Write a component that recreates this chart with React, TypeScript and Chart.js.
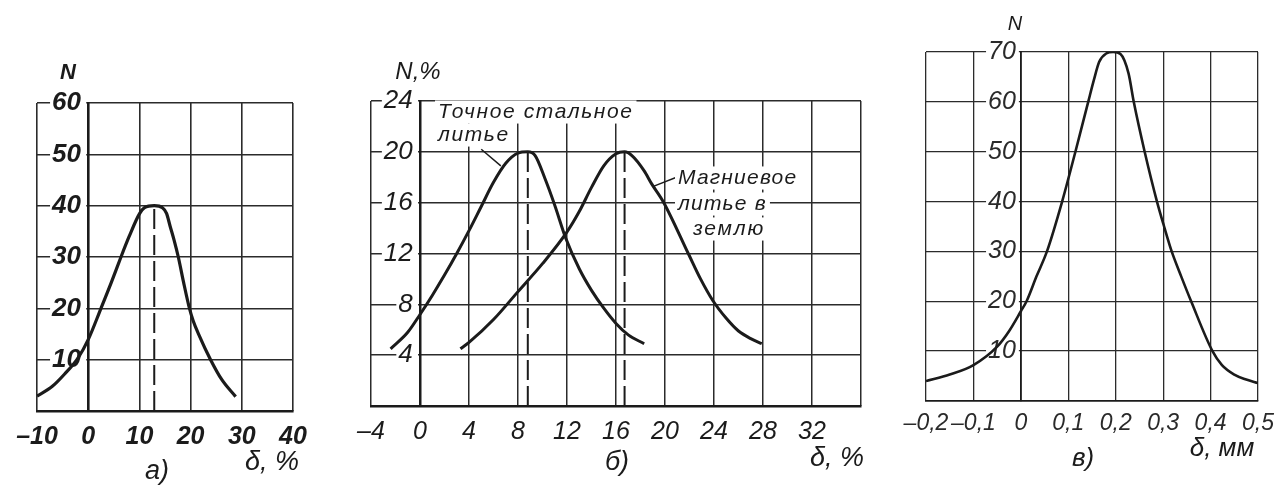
import React, { useEffect, useRef } from "react";
import { Chart, registerables } from "chart.js";

Chart.register(...registerables);

const W = 1283;
const H = 490;
const INK = "#1b1b1b";
const GRID = "#2b2b2b";
const NARROW = "'Liberation Sans Narrow', 'Liberation Sans', Arial, sans-serif";
const WIDE = "'Liberation Sans', Arial, sans-serif";

// ---------- Panel а) ----------
const aDelta = [-10, -7, -4.6, -2, 0, 2.5, 4.5, 6.4, 8, 10, 11, 12.9, 14.5, 15.3, 16, 16.8, 17.6, 18.6, 19.7, 20.5, 21.6, 23.9, 26.1, 28.8];
const aN = [2.9, 4.8, 7.2, 10.3, 13.9, 20, 25, 30, 34, 38.4, 39.6, 40, 39.6, 38.5, 36, 33.2, 30, 25.2, 20.3, 17.6, 14.9, 10, 6.1, 2.8];
const aPeakDelta = 12.9;
const aPeakN = 40;
const aXTicks = [-10, 0, 10, 20, 30, 40];
const aYTicks = [10, 20, 30, 40, 50, 60];

// ---------- Panel б) ----------
const bSteelDelta = [-2.4, -1, 0, 1, 2, 3, 4, 5, 6, 7, 8, 8.8, 9.4, 10.2, 11, 11.9, 13, 14, 15, 16, 17, 18.3];
const bSteelN = [4.5, 5.8, 7.2, 8.7, 10.3, 12.0, 13.8, 15.7, 17.6, 19.1, 19.9, 20, 19.7, 17.9, 15.8, 13.2, 10.8, 9.1, 7.7, 6.5, 5.6, 4.9];
const bMgDelta = [3.3, 4, 6, 8, 10, 12, 13, 14, 15, 16, 16.7, 17.3, 18.3, 18.9, 19.9, 21.9, 22.9, 23.9, 25, 26, 27, 27.9];
const bMgN = [4.5, 5.0, 6.8, 9.0, 11.2, 13.7, 15.3, 17.2, 18.9, 19.85, 20, 19.7, 18.5, 17.5, 16, 12, 10, 8.3, 6.9, 5.9, 5.3, 4.9];
const bSteelPeakDelta = 8.8;
const bMgPeakDelta = 16.7;
const bPeakN = 20;
const bXTicks = [-4, 0, 4, 8, 12, 16, 20, 24, 28, 32, 36];
const bXLabelled = [-4, 0, 4, 8, 12, 16, 20, 24, 28, 32];
const bYTicks = [4, 8, 12, 16, 20, 24];
const bSteelLabel = ["Точное стальное", "литье"];
const bMgLabel = ["Магниевое", "литье в", "землю"];

// ---------- Panel в) ----------
const cDelta = [-0.2, -0.15, -0.1, -0.05, -0.025, 0, 0.012, 0.033, 0.055, 0.087, 0.115, 0.142, 0.154, 0.165, 0.18, 0.195, 0.21, 0.227, 0.238, 0.261, 0.287, 0.302, 0.318, 0.338, 0.359, 0.404, 0.424, 0.45, 0.475, 0.5];
const cN = [4.0, 5.3, 7.2, 10.9, 14.0, 18.0, 20, 25, 30, 40, 50, 60, 64.4, 68, 69.7, 70, 69.6, 65.7, 60, 50, 40, 35, 30, 25, 20, 10, 7.2, 5.3, 4.3, 3.6];
const cXTicks = [-0.2, -0.1, 0, 0.1, 0.2, 0.3, 0.4, 0.5];
const cYTicks = [10, 20, 30, 40, 50, 60, 70];

const fmtInt = (v: number) => (v < 0 ? "–" + Math.abs(v) : String(v));
const fmtDec = (v: number) =>
  Math.abs(v) < 1e-9 ? "0" : (v < 0 ? "–" : "") + Math.abs(v).toFixed(1).replace(".", ",");

type TextItem = { t: string; x: number; y: number; size: number; family?: string; weight?: string; align?: CanvasTextAlign; box?: boolean; spacing?: number };
type LineItem = { x1: number; y1: number; x2: number; y2: number };

type PanelSpec = {
  area: { left: number; top: number; right: number; bottom: number };
  xMin: number; xMax: number; yMin: number; yMax: number;
  xTicks: number[]; xLabelled: number[]; yTicks: number[];
  fmtX: (v: number) => string;
  series: { x: number[]; y: number[] }[];
  peaks: { x: number; y: number }[];
  tickSize: number; yTickSize: number; tickWeight: string; tickColor: string;
  curveWidth: number; gridWidth: number; axisWidth: number;
  ySuffix: string; xPad: number;
  texts: TextItem[];
  leaders: LineItem[];
};

function makeTextPlugin(spec: PanelSpec) {
  return {
    id: "texts",
    afterDraw(chart: any) {
      const ctx: CanvasRenderingContext2D = chart.ctx;
      const xs = chart.scales.x;
      const ys = chart.scales.y;
      ctx.save();
      ctx.strokeStyle = INK;
      ctx.lineWidth = 1.5;
      for (const l of spec.leaders) {
        ctx.beginPath();
        ctx.moveTo(xs.getPixelForValue(l.x1), ys.getPixelForValue(l.y1));
        ctx.lineTo(xs.getPixelForValue(l.x2), ys.getPixelForValue(l.y2));
        ctx.stroke();
      }
      for (const t of spec.texts) {
        ctx.font = `italic ${t.weight || "normal"} ${t.size}px ${t.family || NARROW}`;
        (ctx as any).letterSpacing = `${t.spacing || 0}px`;
        ctx.textAlign = t.align || "center";
        ctx.textBaseline = "middle";
        if (t.box) {
          const w = ctx.measureText(t.t).width;
          const left = t.align === "left" ? t.x : t.x - w / 2;
          ctx.fillStyle = "#ffffff";
          ctx.fillRect(left - 3, t.y - t.size * 0.55, w + 6, t.size * 1.1);
        }
        ctx.fillStyle = INK;
        ctx.fillText(t.t, t.x, t.y);
      }
      ctx.restore();
    },
  };
}

function buildConfig(spec: PanelSpec): any {
  const datasets: any[] = [];
  spec.series.forEach((s) => {
    datasets.push({
      data: s.x.map((x, i) => ({ x, y: s.y[i] })),
      borderColor: INK,
      borderWidth: spec.curveWidth,
      pointRadius: 0,
      cubicInterpolationMode: "monotone",
      fill: false,
    });
  });
  spec.peaks.forEach((p) => {
    datasets.push({
      data: [
        { x: p.x, y: spec.yMin },
        { x: p.x, y: p.y },
      ],
      borderColor: INK,
      borderWidth: 2,
      borderDash: [20, 6],
      pointRadius: 0,
      fill: false,
    });
  });
  const xFont = { family: NARROW, size: spec.tickSize, style: "italic", weight: spec.tickWeight };
  const yFont = { family: NARROW, size: spec.yTickSize, style: "italic", weight: spec.tickWeight };
  return {
    type: "line",
    data: { datasets },
    options: {
      responsive: false,
      animation: false,
      devicePixelRatio: 1,
      events: [],
      layout: {
        padding: {
          left: spec.area.left,
          top: spec.area.top,
          right: W - spec.area.right,
          bottom: H - spec.area.bottom,
        },
      },
      plugins: { legend: { display: false }, tooltip: { enabled: false }, title: { display: false } },
      scales: {
        x: {
          type: "linear",
          position: { y: spec.yMin },
          min: spec.xMin,
          max: spec.xMax,
          afterBuildTicks: (s: any) => {
            s.ticks = spec.xTicks.map((v) => ({ value: v }));
          },
          grid: { color: GRID, lineWidth: spec.gridWidth, drawTicks: false },
          border: { color: INK, width: spec.axisWidth },
          ticks: {
            autoSkip: false,
            maxRotation: 0,
            padding: spec.xPad,
            color: spec.tickColor,
            font: xFont,
            callback: (v: number) => (spec.xLabelled.some((l) => Math.abs(l - v) < 1e-9) ? spec.fmtX(v) : ""),
          },
        },
        y: {
          type: "linear",
          position: { x: 0 },
          min: spec.yMin,
          max: spec.yMax,
          afterBuildTicks: (s: any) => {
            s.ticks = spec.yTicks.map((v) => ({ value: v }));
          },
          grid: { color: GRID, lineWidth: spec.gridWidth, drawTicks: false },
          border: { color: INK, width: spec.axisWidth },
          ticks: {
            autoSkip: false,
            color: spec.tickColor,
            font: yFont,
            showLabelBackdrop: true,
            backdropColor: "#ffffff",
            backdropPadding: { top: 0, bottom: 0, left: 2, right: -2 },
            callback: (v: number) => String(v) + spec.ySuffix,
          },
        },
      },
    },
    plugins: [makeTextPlugin(spec)],
  };
}

function Panel({ spec }: { spec: PanelSpec }) {
  const ref = useRef<HTMLCanvasElement | null>(null);
  useEffect(() => {
    if (!ref.current) return;
    const chart = new Chart(ref.current, buildConfig(spec));
    return () => chart.destroy();
  }, [spec]);
  return (
    <canvas
      ref={ref}
      width={W}
      height={H}
      style={{ position: "absolute", left: 0, top: 0, width: W, height: H }}
    />
  );
}

const panelA: PanelSpec = {
  area: { left: 37, top: 103, right: 293, bottom: 411 },
  xMin: -10, xMax: 40, yMin: 0, yMax: 60,
  xTicks: aXTicks, xLabelled: aXTicks, yTicks: aYTicks,
  fmtX: fmtInt,
  series: [{ x: aDelta, y: aN }],
  peaks: [{ x: aPeakDelta, y: aPeakN }],
  tickSize: 25, yTickSize: 26, tickWeight: "bold", tickColor: INK,
  curveWidth: 3.2, gridWidth: 1.6, axisWidth: 2.6,
  ySuffix: " ", xPad: 11,
  texts: [
    { t: "N", x: 68, y: 73, size: 22, weight: "bold" },
    { t: "δ, %", x: 272, y: 462, size: 27 },
    { t: "а)", x: 157, y: 471, size: 27 },
  ],
  leaders: [],
};

const panelB: PanelSpec = {
  area: { left: 371, top: 101, right: 861, bottom: 406 },
  xMin: -4, xMax: 36, yMin: 0, yMax: 24,
  xTicks: bXTicks, xLabelled: bXLabelled, yTicks: bYTicks,
  fmtX: fmtInt,
  series: [
    { x: bSteelDelta, y: bSteelN },
    { x: bMgDelta, y: bMgN },
  ],
  peaks: [
    { x: bSteelPeakDelta, y: bPeakN },
    { x: bMgPeakDelta, y: bPeakN },
  ],
  tickSize: 25, yTickSize: 26, tickWeight: "normal", tickColor: INK,
  curveWidth: 3, gridWidth: 1.5, axisWidth: 2.5,
  ySuffix: " ", xPad: 11,
  texts: [
    { t: "N,%", x: 418, y: 72, size: 24 },
    { t: "δ, %", x: 837, y: 458, size: 27 },
    { t: "б)", x: 617, y: 462, size: 27 },
    { t: bSteelLabel[0], x: 438, y: 112, size: 21, family: WIDE, align: "left", box: true, spacing: 1.6 },
    { t: bSteelLabel[1], x: 438, y: 135, size: 21, family: WIDE, align: "left", box: true, spacing: 1.6 },
    { t: bMgLabel[0], x: 678, y: 178, size: 21, family: WIDE, align: "left", box: true, spacing: 1.2 },
    { t: bMgLabel[1], x: 678, y: 204, size: 21, family: WIDE, align: "left", box: true, spacing: 1.2 },
    { t: bMgLabel[2], x: 693, y: 229, size: 21, family: WIDE, align: "left", box: true, spacing: 1.8 },
  ],
  leaders: [
    { x1: 5.0, y1: 20.2, x2: 6.6, y2: 18.9 },
    { x1: 21.2, y1: 18.1, x2: 19.1, y2: 17.3 },
  ],
};

const panelC: PanelSpec = {
  area: { left: 926, top: 52, right: 1271, bottom: 401 },
  xMin: -0.2, xMax: 0.5, yMin: 0, yMax: 70,
  xTicks: cXTicks, xLabelled: cXTicks, yTicks: cYTicks,
  fmtX: fmtDec,
  series: [{ x: cDelta, y: cN }],
  peaks: [],
  tickSize: 23, yTickSize: 25, tickWeight: "normal", tickColor: "#2a2a2a",
  curveWidth: 2.6, gridWidth: 1.3, axisWidth: 1.8,
  ySuffix: "\u2009", xPad: 9,
  texts: [
    { t: "N", x: 1015, y: 24, size: 20 },
    { t: "δ, мм", x: 1222, y: 449, size: 26 },
    { t: "в)", x: 1083, y: 459, size: 26 },
  ],
  leaders: [],
};

export default function App() {
  return (
    <div
      style={{
        position: "fixed",
        left: 0,
        top: 0,
        width: W,
        height: H,
        background: "#ffffff",
        overflow: "hidden",
      }}
    >
      <Panel spec={panelA} />
      <Panel spec={panelB} />
      <Panel spec={panelC} />
    </div>
  );
}
